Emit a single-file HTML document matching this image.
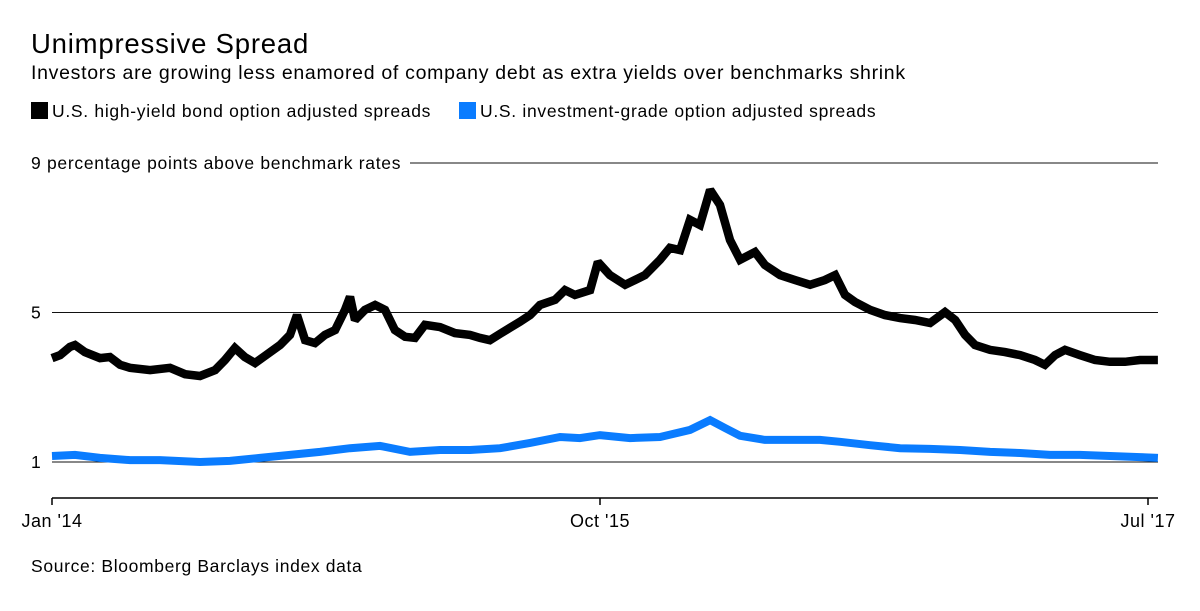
<!DOCTYPE html>
<html><head><meta charset="utf-8"><style>
body{margin:0;background:#fff;font-family:"Liberation Sans",sans-serif;color:#000;}
#wrap{position:relative;width:1200px;height:611px;overflow:hidden;}
.t{position:absolute;white-space:nowrap;}
</style></head><body>
<div id="wrap">
<div class="t" style="left:31px;top:28px;font-size:27.5px;letter-spacing:0.8px;">Unimpressive Spread</div>
<div class="t" style="left:31px;top:62px;font-size:19.5px;letter-spacing:0.7px;">Investors are growing less enamored of company debt as extra yields over benchmarks shrink</div>
<div class="t" style="left:31px;top:101px;font-size:17.5px;letter-spacing:0.7px;"><span style="display:inline-block;width:17px;height:17px;background:#000;vertical-align:-2px;margin-right:4px"></span>U.S. high-yield bond option adjusted spreads</div>
<div class="t" style="left:459px;top:101px;font-size:17.5px;letter-spacing:0.7px;"><span style="display:inline-block;width:17px;height:17px;background:#0a7cff;vertical-align:-2px;margin-right:4px"></span>U.S. investment-grade option adjusted spreads</div>
<div class="t" style="left:31px;top:556px;font-size:17.5px;letter-spacing:0.65px;">Source: Bloomberg Barclays index data</div>
<svg id="svg" width="1200" height="611" style="position:absolute;left:0;top:0"></svg>
</div>
<script>
const yTicks=[9,5,1];
const xTickMonths=[0,21,42];
const xTickLabels=["Jan '14","Oct '15","Jul '17"];
const hyMonths=[0,.31,.69,.88,1.26,1.84,2.22,2.61,2.99,3.76,4.52,5.10,5.67,6.25,6.63,7.01,7.39,7.78,8.16,8.74,9.12,9.39,9.70,10.08,10.46,10.85,11.23,11.42,11.61,11.99,12.38,12.76,13.14,13.53,13.91,14.29,14.87,15.44,16.02,16.40,16.78,17.17,17.55,17.93,18.32,18.70,19.28,19.66,20.04,20.62,20.92,21.38,21.96,22.34,22.72,23.30,23.68,24.07,24.45,24.83,25.22,25.60,25.98,26.37,26.94,27.32,27.90,28.47,29.05,29.62,30.01,30.39,30.77,31.35,31.92,32.50,33.07,33.65,34.22,34.61,34.99,35.37,35.95,36.52,37.10,37.67,38.05,38.44,38.82,39.39,39.97,40.54,41.12,41.69,42.38];
const hyValues=[3.78,3.86,4.08,4.13,3.94,3.78,3.81,3.60,3.52,3.46,3.52,3.35,3.30,3.46,3.73,4.05,3.81,3.65,3.84,4.13,4.40,4.93,4.26,4.18,4.40,4.53,5.07,5.42,4.80,5.07,5.20,5.07,4.53,4.35,4.32,4.67,4.61,4.45,4.40,4.32,4.26,4.43,4.59,4.75,4.93,5.20,5.34,5.60,5.47,5.60,6.35,6.00,5.74,5.87,6.00,6.41,6.73,6.67,7.48,7.34,8.28,7.88,6.94,6.41,6.62,6.27,6.00,5.87,5.74,5.87,6.00,5.47,5.28,5.07,4.93,4.85,4.80,4.72,5.01,4.80,4.40,4.13,4.00,3.94,3.86,3.73,3.60,3.86,4.00,3.86,3.73,3.68,3.68,3.73,3.73];
const igMonths=[0,.88,1.84,2.99,4.14,5.67,6.82,7.97,9.12,10.27,11.42,12.57,13.72,14.87,16.02,17.17,18.32,19.47,20.23,21.00,22.15,23.30,24.45,25.22,25.79,26.37,27.32,28.28,29.43,30.20,31.35,32.50,33.65,34.80,35.95,37.10,38.24,39.39,40.54,41.69,42.38];
const igValues=[1.16,1.19,1.11,1.05,1.05,1.00,1.03,1.11,1.19,1.27,1.37,1.43,1.27,1.32,1.32,1.37,1.51,1.67,1.64,1.72,1.64,1.67,1.86,2.12,1.91,1.70,1.59,1.59,1.59,1.54,1.45,1.37,1.35,1.32,1.27,1.24,1.19,1.19,1.16,1.13,1.11];

const NS="http://www.w3.org/2000/svg";
const svg=document.getElementById('svg');
const x=m=>52+m*(1096/42);
const y=v=>462-(v-1)*37.375;
function mk(tag,attrs){const e=document.createElementNS(NS,tag);for(const k in attrs)e.setAttribute(k,attrs[k]);svg.appendChild(e);return e;}
yTicks.forEach(v=>{
  const lab=mk('text',{x:31,y:y(v)+6,'font-size':17.5,'letter-spacing':v===9?0.7:0,'font-family':'Liberation Sans, sans-serif'});
  lab.textContent=v===9?'9 percentage points above benchmark rates':String(v);
  
  
  const gl=mk('line',{x1:v===9?410:52,x2:1158,y1:y(v),y2:y(v),stroke:'#111','stroke-width':1});
  
  
});
const ax=mk('line',{x1:52,x2:1158,y1:498,y2:498,stroke:'#000','stroke-width':1.5});


xTickMonths.forEach((m,i)=>{
  const tk=mk('line',{x1:x(m),x2:x(m),y1:498,y2:505,stroke:'#000','stroke-width':1.5});
  
  
  const t=mk('text',{x:x(m),y:527,'font-size':18,'letter-spacing':0.5,'text-anchor':'middle','font-family':'Liberation Sans, sans-serif'});
  t.textContent=xTickLabels[i];
  
  
});
function line(ms,vs,color,w,name){
  const d=ms.map((m,i)=>(i?'L':'M')+x(m).toFixed(1)+','+y(vs[i]).toFixed(1)).join('');
  const p=mk('path',{d:d,fill:'none',stroke:color,'stroke-width':w,'stroke-linejoin':'miter','stroke-miterlimit':2});
  
  
}
line(igMonths,igValues,'#0a7cff',8,'investment-grade-line');
line(hyMonths,hyValues,'#000',8.5,'high-yield-line');
</script>
</body></html>
